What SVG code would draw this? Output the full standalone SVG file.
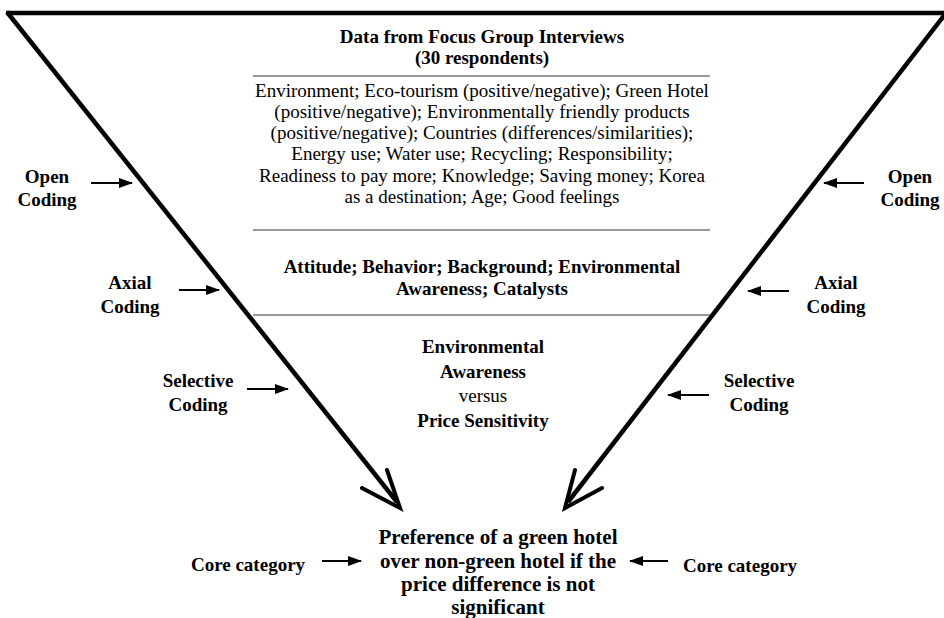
<svg xmlns="http://www.w3.org/2000/svg" width="944" height="618" viewBox="0 0 944 618">
<defs>
<marker id="ah" viewBox="0 0 14 10" refX="13" refY="5" markerWidth="14" markerHeight="10" markerUnits="userSpaceOnUse" orient="auto">
<path d="M0,0 L14,5 L0,10 Z" fill="#000"/>
</marker>
</defs>
<style>
text{font-family:"Liberation Serif","Times New Roman",serif;fill:#000;text-anchor:middle}
.b{font-weight:bold;font-size:19px}
.r{font-size:19px}
.f{font-weight:bold;font-size:21px}
.sep{stroke:#777;stroke-width:1.5}
.main{stroke:#000;stroke-width:4.5;fill:none;stroke-linecap:butt}
.head{stroke:#000;stroke-width:4;fill:none;stroke-linecap:round}
.sm{stroke:#000;stroke-width:2;fill:none;marker-end:url(#ah)}
</style>
<rect width="944" height="618" fill="#fff"/>
<g id="connectors">
<path class="main" d="M6,13 L948,13"/>
<path class="main" d="M7,12 L397,502"/>
<path class="main" d="M946,13 L568,502"/>
<path class="head" d="M362,488 L400,508 L387,470"/>
<path class="head" d="M602,488 L565,508 L575,470"/>
<line class="sm" x1="91" y1="183" x2="132" y2="183"/>
<line class="sm" x1="179" y1="290" x2="219" y2="290"/>
<line class="sm" x1="247" y1="389" x2="288" y2="389"/>
<line class="sm" x1="864" y1="183" x2="824" y2="183"/>
<line class="sm" x1="789" y1="291" x2="748" y2="291"/>
<line class="sm" x1="709" y1="395" x2="668" y2="395"/>
<line class="sm" x1="322" y1="561" x2="361" y2="561"/>
<line class="sm" x1="668" y1="561" x2="630" y2="561"/>
</g>
<g id="separators">
<line class="sep" x1="253" y1="76" x2="710" y2="76"/>
<line class="sep" x1="253" y1="230" x2="710" y2="230"/>
<line class="sep" x1="253" y1="315" x2="710" y2="315"/>
</g>
<g id="data">
<text class="b" x="482" y="43">Data from Focus Group Interviews</text>
<text class="b" x="482" y="64">(30 respondents)</text>
</g>
<g id="open-codes">
<text class="r" x="482" y="97">Environment; Eco-tourism (positive/negative); Green Hotel</text>
<text class="r" x="482" y="118">(positive/negative); Environmentally friendly products</text>
<text class="r" x="482" y="139">(positive/negative); Countries (differences/similarities);</text>
<text class="r" x="482" y="160">Energy use; Water use; Recycling; Responsibility;</text>
<text class="r" x="482" y="182">Readiness to pay more; Knowledge; Saving money; Korea</text>
<text class="r" x="482" y="203">as a destination; Age; Good feelings</text>
</g>
<g id="axial-codes">
<text class="b" x="482" y="273">Attitude; Behavior; Background; Environmental</text>
<text class="b" x="482" y="295">Awareness; Catalysts</text>
</g>
<g id="selective-codes">
<text class="b" x="483" y="353">Environmental</text>
<text class="b" x="483" y="378">Awareness</text>
<text class="r" x="483" y="402">versus</text>
<text class="b" x="483" y="427">Price Sensitivity</text>
</g>
<g id="core">
<text class="f" x="498" y="544">Preference of a green hotel</text>
<text class="f" x="498" y="568">over non-green hotel if the</text>
<text class="f" x="498" y="591">price difference is not</text>
<text class="f" x="498" y="614">significant</text>
</g>
<g id="label-open-left"><text class="b" x="47" y="183">Open</text><text class="b" x="47" y="206">Coding</text></g>
<g id="label-axial-left"><text class="b" x="130" y="289">Axial</text><text class="b" x="130" y="313">Coding</text></g>
<g id="label-selective-left"><text class="b" x="198" y="387">Selective</text><text class="b" x="198" y="411">Coding</text></g>
<g id="label-open-right"><text class="b" x="910" y="183">Open</text><text class="b" x="910" y="206">Coding</text></g>
<g id="label-axial-right"><text class="b" x="836" y="289">Axial</text><text class="b" x="836" y="313">Coding</text></g>
<g id="label-selective-right"><text class="b" x="759" y="387">Selective</text><text class="b" x="759" y="411">Coding</text></g>
<g id="label-core-left"><text class="b" x="248" y="571">Core category</text></g>
<g id="label-core-right"><text class="b" x="740" y="572">Core category</text></g>
</svg>
